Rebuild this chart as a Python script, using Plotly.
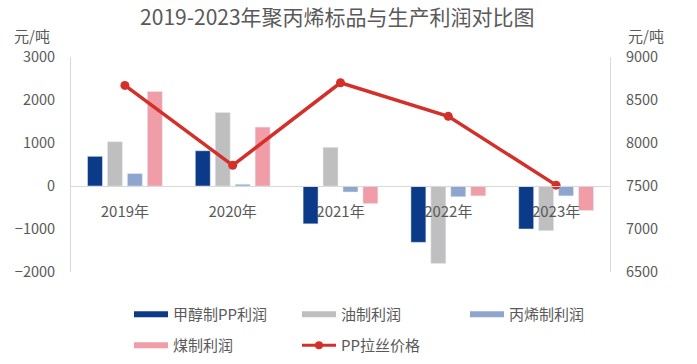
import plotly.graph_objects as go

categories = ["2019年", "2020年", "2021年", "2022年", "2023年"]
methanol_pp = [690, 820, -880, -1310, -1000]
oil_profit = [1030, 1710, 900, -1800, -1040]
propylene_profit = [290, 40, -140, -250, -230]
coal_profit = [2200, 1370, -410, -230, -570]
pp_price = [8670, 7740, 8700, 8310, 7510]

left_ticks = [-2000, -1000, 0, 1000, 2000, 3000]
right_ticks = [6500, 7000, 7500, 8000, 8500, 9000]

FONT = "Noto Sans CJK SC"
TXT = "#595959"
RED = "#d3302a"

bar_series = [
    ("甲醇制PP利润", methanol_pp, "#0b3a88"),
    ("油制利润", oil_profit, "#bfbfbf"),
    ("丙烯制利润", propylene_profit, "#8ea6cd"),
    ("煤制利润", coal_profit, "#f19da8"),
]

fig = go.Figure()
for name, vals, col in bar_series:
    fig.add_trace(go.Bar(x=categories, y=vals, name=name, marker_color=col,
                         showlegend=False, yaxis="y"))
fig.add_trace(go.Scatter(x=categories, y=pp_price, name="PP拉丝价格", yaxis="y2",
                         mode="lines+markers", showlegend=False,
                         line=dict(color=RED, width=3.5),
                         marker=dict(color=RED, size=9)))

# legend entries (row 1 -> legend, row 2 -> legend2)
for i, (name, vals, col) in enumerate(bar_series):
    fig.add_trace(go.Scatter(x=[None], y=[None], name=name, mode="lines",
                             line=dict(color=col, width=6), legendrank=i + 1,
                             legend="legend" if i < 3 else "legend2"))
fig.add_trace(go.Scatter(x=[None], y=[None], name="PP拉丝价格", mode="lines+markers",
                         line=dict(color=RED, width=3), marker=dict(size=8, color=RED),
                         legendrank=5, legend="legend2"))

leg_common = dict(orientation="h", xanchor="left", yanchor="top",
                  entrywidth=119, entrywidthmode="pixels", itemwidth=34,
                  font=dict(size=15, color=TXT), itemclick=False,
                  bgcolor="rgba(0,0,0,0)")

fig.update_layout(
    width=697, height=364,
    margin=dict(l=71, r=87, t=57, b=92, autoexpand=False),
    paper_bgcolor="white", plot_bgcolor="white",
    font=dict(family=FONT, color=TXT, size=14),
    title=dict(text="2019-2023年聚丙烯标品与生产利润对比图", x=0.484, xanchor="center",
               y=0.952, yanchor="middle", font=dict(size=21, color=TXT)),
    barmode="group", bargap=0.26, bargroupgap=0.25,
    xaxis=dict(anchor="free", position=0.4, showline=True, linecolor="#d9d9d9", linewidth=1,
               ticks="", showgrid=False, ticklabelstandoff=12,
               tickfont=dict(size=15, color=TXT)),
    yaxis=dict(range=[-2000, 3000], tickvals=left_ticks, showgrid=False, zeroline=False,
               showline=True, linecolor="#d9d9d9", ticks="", ticklabelstandoff=12,
               tickfont=dict(size=14.5, color=TXT)),
    yaxis2=dict(range=[6500, 9000], tickvals=right_ticks, overlaying="y", side="right",
                showgrid=False, zeroline=False, showline=True, linecolor="#d9d9d9",
                ticks="", ticklabelstandoff=12,
                tickfont=dict(size=14.5, color=TXT)),
    legend=dict(x=0.1076, y=-0.121, **leg_common),
    legend2=dict(x=0.1076, y=-0.265, **leg_common),
    annotations=[
        dict(text="元/吨", xref="paper", yref="paper", x=-0.109, y=1.042, xanchor="left",
             yanchor="bottom", showarrow=False, font=dict(size=15, color=TXT)),
        dict(text="元/吨", xref="paper", yref="paper", x=1.03, y=1.042, xanchor="left",
             yanchor="bottom", showarrow=False, font=dict(size=15, color=TXT)),
    ],
)

fig.write_html("out.html", config={"displayModeBar": False},
               post_script="document.body.style.margin='0px';")
